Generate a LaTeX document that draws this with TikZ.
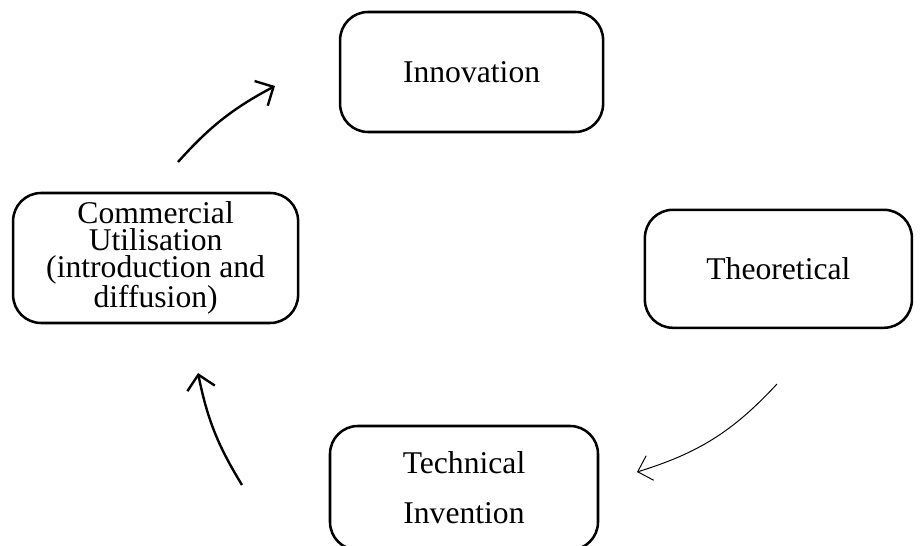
\documentclass[tikz,border=0pt]{standalone}
\usepackage{fontspec}
\setmainfont{Liberation Serif}
\usetikzlibrary{arrows.meta}

\begin{document}
\begin{tikzpicture}[
    stage/.style={draw, line width=1.8pt, rounded corners=0.7cm, align=center, inner sep=0pt,
        font=\fontsize{22.5}{19}\selectfont},
    cycle/.style={line width=1.7pt, -{Straight Barb[length=0.35cm, width=0.7cm]}}
]
    \clip (0,0) rectangle (23.05,13.65);

    % Stages of the innovation cycle
    \node[stage, minimum width=6.575cm, minimum height=3cm] (inno) at (11.79,11.85) {Innovation};
    \node[stage, minimum width=6.675cm, minimum height=2.95cm] (theo) at (19.46,6.93) {Theoretical};
    \node[stage, minimum width=6.7cm, minimum height=3.1cm, font=\fontsize{22.5}{35.5}\selectfont] (tech) at (11.6,1.45) {Technical\\Invention};
    \node[stage, minimum width=7.125cm, minimum height=3.25cm] (comm) at (3.89,7.2) {Commercial\\Utilisation\\(introduction and\\diffusion)};

    % Free ends of the arrows between the stages
    \coordinate (down-from) at (19.425,4.05);
    \coordinate (down-to) at (15.925,1.85);
    \coordinate (back-from) at (6.05,1.525);
    \coordinate (back-to) at (4.95,4.325);
    \coordinate (up-from) at (4.45,9.6);
    \coordinate (up-to) at (6.875,11.5);

    \draw[cycle, line width=0.7pt, -{Straight Barb[length=0.32cm, width=0.64cm]}] (down-from) to[bend left=15] (down-to);
    \draw[cycle] (back-from) to[bend left=10] (back-to);
    \draw[cycle] (up-from) to[bend left=10] (up-to);

\end{tikzpicture}
\end{document}
